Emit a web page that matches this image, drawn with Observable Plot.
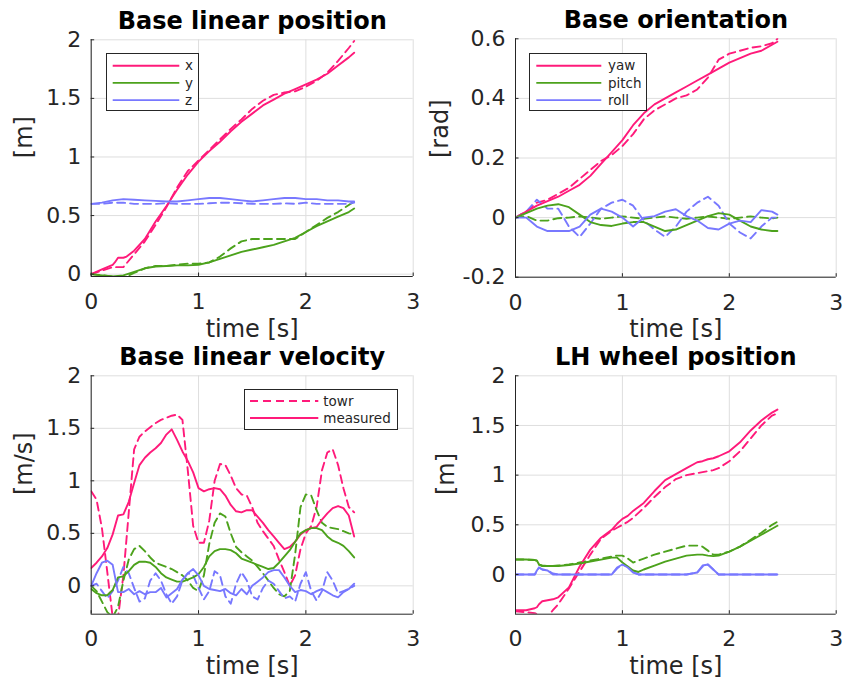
<!DOCTYPE html>
<html>
<head>
<meta charset="utf-8">
<script src="https://cdn.jsdelivr.net/npm/d3@7"></script>
<script src="https://cdn.jsdelivr.net/npm/@observablehq/plot@0.6"></script>
<style>
  html, body { margin: 0; padding: 0; background: #fff; }
  #root { position: relative; width: 846px; height: 684px; overflow: hidden; background: #fff; font-family: "DejaVu Sans", sans-serif; }
  .panel { position: absolute; }
  .legend { position: absolute; background: #fff; border: 1px solid #262626; box-sizing: border-box; }
</style>
</head>
<body>
<div id="root"></div>
<script>
// ---------------- data ----------------
const xTicks = [0, 1, 2, 3];
const yTicksPos = [0, 0.5, 1, 1.5, 2];
const yTicksOri = [-0.2, 0, 0.2, 0.4, 0.6];

// time grid for panels 1 & 2
const tA = [0,0.1,0.2,0.3,0.4,0.5,0.6,0.7,0.8,0.9,1.0,1.1,1.2,1.3,1.4,1.5,1.6,1.7,1.8,1.9,2.0,2.1,2.2,2.3,2.4,2.45];
// finer grid for measured base x position (step near 0.25 s)
const tPX = [0,0.1,0.2,0.22,0.25,0.3,0.33,0.4,0.5,0.6,0.7,0.8,0.9,1.0,1.1,1.2,1.3,1.4,1.5,1.6,1.7,1.8,1.9,2.0,2.1,2.2,2.3,2.4,2.45];

// Base linear position
const posXMeas = [0,0.04,0.08,0.1,0.14,0.14,0.15,0.2,0.3,0.45,0.58,0.72,0.85,0.96,1.05,1.13,1.22,1.3,1.37,1.44,1.49,1.54,1.58,1.62,1.66,1.71,1.78,1.85,1.89];
const posXTowr = [0,0.03,0.06,0.06,0.17,0.28,0.42,0.57,0.74,0.88,0.97,1.06,1.15,1.24,1.32,1.41,1.48,1.53,1.55,1.56,1.6,1.65,1.72,1.82,1.93,1.99];
const posYMeas = [0,-0.01,-0.02,-0.01,0.02,0.05,0.065,0.07,0.075,0.075,0.08,0.1,0.13,0.16,0.19,0.21,0.23,0.25,0.28,0.31,0.36,0.41,0.45,0.49,0.53,0.56];
const posYTowr = [0,-0.01,-0.02,-0.03,0.01,0.05,0.07,0.07,0.08,0.09,0.09,0.1,0.15,0.22,0.28,0.3,0.3,0.3,0.3,0.3,0.36,0.42,0.48,0.53,0.59,0.62];
const posZMeas = [0.6,0.61,0.63,0.64,0.635,0.63,0.625,0.62,0.62,0.63,0.64,0.65,0.65,0.64,0.63,0.62,0.63,0.64,0.65,0.65,0.64,0.64,0.63,0.63,0.62,0.62];
const posZTowr = [0.6,0.6,0.61,0.61,0.6,0.6,0.6,0.605,0.6,0.6,0.6,0.605,0.61,0.61,0.605,0.6,0.6,0.6,0.605,0.6,0.61,0.6,0.6,0.6,0.6,0.61];

// Base orientation
const yawMeas   = [0,0.02,0.04,0.055,0.07,0.09,0.11,0.14,0.18,0.22,0.26,0.31,0.35,0.38,0.4,0.42,0.44,0.46,0.48,0.5,0.52,0.535,0.55,0.56,0.58,0.59];
const yawTowr   = [0,0.02,0.05,0.06,0.08,0.1,0.13,0.16,0.19,0.21,0.24,0.28,0.33,0.36,0.38,0.4,0.41,0.43,0.47,0.53,0.55,0.56,0.57,0.575,0.585,0.6];
const pitchMeas = [0,0.015,0.03,0.04,0.045,0.035,0.01,-0.015,-0.025,-0.028,-0.02,-0.015,-0.015,-0.03,-0.045,-0.04,-0.025,-0.01,0.005,0.015,0.01,-0.01,-0.03,-0.04,-0.045,-0.045];
const pitchTowr = [0,0.005,-0.01,-0.01,-0.002,0,0.004,0,-0.004,0,0.004,0,-0.004,0,0.004,0,-0.004,0,0.004,0,-0.004,0,0.004,0,-0.003,0];
const rollMeas  = [0,0,-0.03,-0.045,-0.045,-0.045,-0.03,0.01,0.03,0.02,0.0,-0.03,0.0,0.005,0.02,0.028,0.005,-0.01,-0.035,-0.04,-0.02,-0.01,-0.015,0.025,0.02,0.01];
const rollTowr  = [0,0.02,0.06,0.03,0.03,-0.03,-0.065,-0.02,0.03,0.05,0.06,0.04,-0.01,-0.04,-0.065,-0.03,0.02,0.05,0.07,0.04,-0.02,-0.05,-0.07,-0.03,0.0,0.0];

// Base linear velocity (0.05 s grid)
const tV = [0,0.05,0.1,0.15,0.2,0.25,0.3,0.35,0.4,0.45,0.5,0.55,0.6,0.65,0.7,0.75,0.8,0.85,0.9,0.95,1.0,1.05,1.1,1.15,1.2,1.25,1.3,1.35,1.4,1.45,1.5,1.55,1.6,1.65,1.7,1.75,1.8,1.85,1.9,1.95,2.0,2.05,2.1,2.15,2.2,2.25,2.3,2.35,2.4,2.45];
const velXMeas = [0.17,0.22,0.28,0.36,0.49,0.67,0.68,0.8,0.98,1.15,1.22,1.27,1.31,1.36,1.44,1.49,1.39,1.28,1.19,1.08,0.93,0.9,0.92,0.93,0.92,0.86,0.77,0.71,0.7,0.72,0.72,0.66,0.6,0.53,0.47,0.41,0.35,0.37,0.42,0.49,0.53,0.55,0.56,0.63,0.69,0.74,0.76,0.74,0.67,0.47];
const velXTowr = [0.9,0.82,0.55,0.13,-0.3,-0.3,0.1,0.7,1.3,1.42,1.47,1.51,1.55,1.58,1.6,1.62,1.63,1.58,1.1,0.57,0.41,0.41,0.62,1.0,1.16,1.15,1.05,0.93,0.87,0.86,0.75,0.6,0.52,0.45,0.38,0.25,0.13,0.0,0.1,0.35,0.5,0.57,0.75,1.1,1.27,1.3,1.15,0.93,0.75,0.7];
const velYMeas = [-0.03,-0.07,-0.09,-0.09,-0.04,0.08,0.09,0.14,0.2,0.23,0.23,0.22,0.18,0.12,0.08,0.06,0.04,0.04,0.06,0.08,0.11,0.18,0.28,0.33,0.35,0.35,0.34,0.31,0.26,0.24,0.22,0.2,0.18,0.16,0.17,0.22,0.28,0.34,0.42,0.5,0.53,0.55,0.55,0.53,0.47,0.43,0.41,0.38,0.33,0.27];
const velYTowr = [0.0,-0.05,-0.15,-0.25,-0.3,-0.2,0.05,0.25,0.35,0.38,0.33,0.27,0.22,0.2,0.18,0.16,0.13,0.1,0.05,-0.02,-0.05,0.1,0.4,0.6,0.69,0.66,0.5,0.37,0.32,0.28,0.24,0.18,0.12,0.05,-0.02,-0.08,-0.1,-0.05,0.3,0.75,0.87,0.86,0.72,0.6,0.56,0.55,0.54,0.52,0.5,0.49];
const velZMeas = [0.0,0.12,0.22,0.24,0.2,-0.06,-0.06,-0.03,-0.08,-0.05,-0.08,-0.06,-0.06,-0.02,-0.11,-0.07,-0.03,0.06,0.12,0.16,0.1,0.0,-0.03,-0.04,-0.05,-0.03,-0.07,-0.09,-0.03,-0.08,0.0,0.04,0.08,0.13,0.15,0.15,0.08,0.0,-0.06,-0.04,-0.05,-0.08,-0.05,-0.03,-0.06,-0.09,-0.11,-0.06,-0.03,0.02];
const velZTowr = [0.0,0.02,-0.05,-0.12,-0.05,0.05,0.18,0.12,-0.02,-0.15,-0.12,0.05,0.12,0.05,-0.08,-0.17,-0.1,0.05,0.12,0.1,-0.02,-0.13,-0.05,0.14,0.1,-0.1,-0.17,0.02,0.13,0.05,-0.1,-0.13,-0.02,0.05,0.02,-0.05,-0.12,-0.1,-0.15,0.02,0.13,-0.05,-0.14,-0.05,0.13,0.05,-0.07,-0.05,-0.03,0.0];

// LH wheel position
const tW = [0,0.1,0.18,0.2,0.22,0.25,0.3,0.35,0.4,0.5,0.6,0.7,0.8,0.9,0.95,1.0,1.05,1.1,1.15,1.2,1.3,1.4,1.5,1.6,1.7,1.75,1.8,1.85,1.9,2.0,2.1,2.2,2.3,2.4,2.45];
const whXMeas = [-0.36,-0.36,-0.34,-0.33,-0.3,-0.27,-0.26,-0.25,-0.23,-0.13,0.08,0.25,0.37,0.45,0.51,0.56,0.59,0.64,0.68,0.72,0.84,0.95,1.01,1.07,1.13,1.14,1.16,1.17,1.19,1.24,1.33,1.45,1.55,1.63,1.66];
const whXTowr = [-0.37,-0.38,-0.39,-0.4,-0.41,-0.42,-0.42,-0.36,-0.3,-0.14,0.03,0.2,0.36,0.44,0.47,0.5,0.53,0.57,0.62,0.67,0.78,0.88,0.96,1.0,1.02,1.03,1.04,1.05,1.07,1.14,1.24,1.37,1.5,1.6,1.62];
const whYMeas = [0.15,0.15,0.145,0.14,0.1,0.085,0.085,0.085,0.085,0.095,0.11,0.13,0.15,0.17,0.17,0.12,0.08,0.04,0.025,0.05,0.09,0.13,0.16,0.19,0.2,0.2,0.19,0.185,0.19,0.23,0.28,0.34,0.4,0.46,0.49];
const whYTowr = [0.15,0.15,0.145,0.14,0.1,0.09,0.085,0.085,0.09,0.1,0.12,0.14,0.16,0.18,0.19,0.19,0.16,0.12,0.14,0.16,0.2,0.23,0.26,0.29,0.29,0.28,0.24,0.2,0.2,0.23,0.28,0.35,0.42,0.5,0.53];
const whZMeas = [0,0,0,0.04,0.07,0.05,0.04,0.0,0,0,0,0,0,0,0.07,0.1,0.07,0.02,0,0,0,0,0,0,0.02,0.09,0.1,0.05,0,0,0,0,0,0,0];
const whZTowr = [0,0,0,0.03,0.07,0.05,0.04,0.01,0,0,0,0,0,0,0.06,0.1,0.08,0.02,0,0,0,0,0,0,0.02,0.08,0.1,0.05,0,0,0,0,0,0,0];

// ---------------- style ----------------
const PINK = "#ff1a7a", GREEN = "#4ca21c", BLUE = "#7878ff";
const TXT = "#262626";
const FONT = "DejaVu Sans";
const LW = 1.9;

function rows(t, v) { return t.map((ti, i) => ({t: ti, v: v[i]})); }

function panel(cfg) {
  const W = 423, H = 342;
  const fw = W - cfg.ml - cfg.mr, fh = H - cfg.mt - cfg.mb;
  const lines = cfg.series.map(s => Plot.line(rows(s.t, s.v), {
    x: "t", y: "v", stroke: s.color, strokeWidth: LW,
    strokeDasharray: s.dashed ? "8,5" : null, clip: true, curve: "linear"
  }));
  const fmt = d => String(d);
  const svg = Plot.plot({
    width: W, height: H,
    marginLeft: cfg.ml, marginRight: cfg.mr, marginTop: cfg.mt, marginBottom: cfg.mb,
    style: {fontFamily: FONT, background: "transparent", overflow: "visible"},
    x: {domain: [0, 3]},
    y: {domain: cfg.ydomain},
    marks: [
      Plot.gridX(xTicks, {stroke: "#dedede", strokeOpacity: 1, strokeWidth: 1}),
      Plot.gridY(cfg.yticks, {stroke: "#dedede", strokeOpacity: 1, strokeWidth: 1}),
      ...lines,
      Plot.ruleY([cfg.ydomain[0]], {stroke: TXT, strokeWidth: 1}),
      Plot.ruleX([0], {stroke: TXT, strokeWidth: 1}),
      Plot.tickX(xTicks, {x: d => d, stroke: TXT, insetTop: fh - 3.5}),
      Plot.tickY(cfg.yticks, {y: d => d, stroke: TXT, insetRight: fw - 3.5}),
      Plot.axisX({ticks: xTicks, tickSize: 0, tickPadding: cfg.xpad, fontSize: 22, label: null, tickFormat: fmt, color: TXT}),
      Plot.axisY({ticks: cfg.yticks, tickSize: 0, tickPadding: 10, fontSize: 22, label: null, tickFormat: fmt, color: TXT}),
      Plot.text([cfg.title], {frameAnchor: "top", lineAnchor: "bottom", dy: -cfg.titleGap, fontSize: 24, fontWeight: "bold", fill: "#000"}),
      Plot.text(["time [s]"], {frameAnchor: "bottom", lineAnchor: "bottom", dy: cfg.xlabGap, fontSize: 24, fill: TXT}),
      Plot.text([cfg.ylabel], {frameAnchor: "left", rotate: -90, dx: cfg.ylabDx, fontSize: 24, fill: TXT})
    ]
  });
  const div = document.createElement("div");
  div.className = "panel";
  div.style.left = cfg.left + "px";
  div.style.top = cfg.top + "px";
  div.appendChild(svg);
  return div;
}

function legend(cfg) {
  const d = document.createElement("div");
  d.className = "legend";
  d.style.left = cfg.left + "px"; d.style.top = cfg.top + "px";
  d.style.width = cfg.w + "px"; d.style.height = cfg.h + "px";
  const ns = "http://www.w3.org/2000/svg";
  const s = document.createElementNS(ns, "svg");
  s.setAttribute("width", cfg.w); s.setAttribute("height", cfg.h);
  s.style.position = "absolute"; s.style.left = "-1px"; s.style.top = "-1px";
  cfg.items.forEach((it, i) => {
    const y = cfg.y0 + i * cfg.dy;
    const l = document.createElementNS(ns, "line");
    l.setAttribute("x1", cfg.lx1); l.setAttribute("x2", cfg.lx2);
    l.setAttribute("y1", y); l.setAttribute("y2", y);
    l.setAttribute("stroke", it.color); l.setAttribute("stroke-width", LW);
    if (it.dashed) l.setAttribute("stroke-dasharray", "8,5");
    s.appendChild(l);
    const t = document.createElementNS(ns, "text");
    t.setAttribute("x", cfg.tx); t.setAttribute("y", y);
    t.setAttribute("dy", "0.35em");
    t.setAttribute("font-family", FONT); t.setAttribute("font-size", 13.5);
    t.setAttribute("fill", TXT);
    t.textContent = it.label;
    s.appendChild(t);
  });
  d.appendChild(s);
  return d;
}

const root = document.getElementById("root");

root.appendChild(panel({
  left: 0, top: 0, ml: 90.7, mr: 10.3, mt: 39.3, mb: 66,
  ydomain: [-0.02, 2], yticks: yTicksPos, title: "Base linear position", ylabel: "[m]",
  ylabDx: -67, titleGap: 11, xlabGap: 60, xpad: 17,
  series: [
    {t: tA, v: posXTowr, color: PINK, dashed: true},
    {t: tA, v: posYTowr, color: GREEN, dashed: true},
    {t: tA, v: posZTowr, color: BLUE, dashed: true},
    {t: tPX, v: posXMeas, color: PINK},
    {t: tA, v: posYMeas, color: GREEN},
    {t: tA, v: posZMeas, color: BLUE}
  ]
}));
root.appendChild(panel({
  left: 423, top: 0, ml: 92, mr: 10.3, mt: 38.3, mb: 65.3,
  ydomain: [-0.2, 0.6], yticks: yTicksOri, title: "Base orientation", ylabel: "[rad]",
  ylabDx: -75, titleGap: 11, xlabGap: 60, xpad: 17,
  series: [
    {t: tA, v: yawTowr, color: PINK, dashed: true},
    {t: tA, v: pitchTowr, color: GREEN, dashed: true},
    {t: tA, v: rollTowr, color: BLUE, dashed: true},
    {t: tA, v: yawMeas, color: PINK},
    {t: tA, v: pitchMeas, color: GREEN},
    {t: tA, v: rollMeas, color: BLUE}
  ]
}));
root.appendChild(panel({
  left: 0, top: 342, ml: 90.7, mr: 10.3, mt: 33.3, mb: 70.3,
  ydomain: [-0.27, 2], yticks: yTicksPos, title: "Base linear velocity", ylabel: "[m/s]",
  ylabDx: -67, titleGap: 11, xlabGap: 60, xpad: 16,
  series: [
    {t: tV, v: velXTowr, color: PINK, dashed: true},
    {t: tV, v: velYTowr, color: GREEN, dashed: true},
    {t: tV, v: velZTowr, color: BLUE, dashed: true},
    {t: tV, v: velXMeas, color: PINK},
    {t: tV, v: velYMeas, color: GREEN},
    {t: tV, v: velZMeas, color: BLUE}
  ]
}));
root.appendChild(panel({
  left: 423, top: 342, ml: 92, mr: 10.3, mt: 33.3, mb: 70.3,
  ydomain: [-0.4, 2], yticks: yTicksPos, title: "LH wheel position", ylabel: "[m]",
  ylabDx: -69, titleGap: 11, xlabGap: 60, xpad: 16,
  series: [
    {t: tW, v: whXTowr, color: PINK, dashed: true},
    {t: tW, v: whYTowr, color: GREEN, dashed: true},
    {t: tW, v: whZTowr, color: BLUE, dashed: true},
    {t: tW, v: whXMeas, color: PINK},
    {t: tW, v: whYMeas, color: GREEN},
    {t: tW, v: whZMeas, color: BLUE}
  ]
}));

root.appendChild(legend({left: 106, top: 53, w: 93, h: 58, y0: 12.7, dy: 17.2, lx1: 6.7, lx2: 73.3, tx: 79,
  items: [{label: "x", color: PINK}, {label: "y", color: GREEN}, {label: "z", color: BLUE}]}));
root.appendChild(legend({left: 529, top: 53, w: 117.5, h: 58, y0: 12.7, dy: 17.2, lx1: 7.3, lx2: 72.3, tx: 79,
  items: [{label: "yaw", color: PINK}, {label: "pitch", color: GREEN}, {label: "roll", color: BLUE}]}));
root.appendChild(legend({left: 244, top: 389, w: 153.5, h: 40.5, y0: 12, dy: 17, lx1: 6, lx2: 74.3, tx: 79.3,
  items: [{label: "towr", color: PINK, dashed: true}, {label: "measured", color: PINK}]}));
</script>
</body>
</html>
